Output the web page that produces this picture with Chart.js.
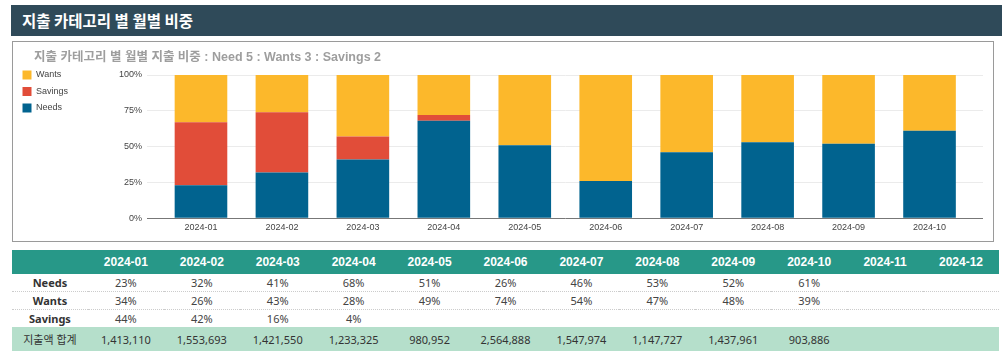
<!DOCTYPE html>
<html>
<head>
<meta charset="utf-8">
<script src="https://cdn.jsdelivr.net/npm/chart.js@4.4.1/dist/chart.umd.min.js"></script>
<style>
body{margin:0;width:1002px;height:358px;background:#fff;position:relative;overflow:hidden;font-family:"Liberation Sans",Arial,sans-serif;}
.head{position:absolute;left:11px;top:5px;width:991px;height:31px;background:#2f4a59;color:#fff;font:bold 15.5px "Noto Sans CJK KR",sans-serif;line-height:31px;padding-left:11px;box-sizing:border-box;}
.box{position:absolute;left:12px;top:41px;width:980px;height:199px;border:1px solid #9a9a9a;}
.box canvas{position:absolute;left:0;top:0}
.ctitle{position:absolute;left:21px;top:8px;font:bold 12.5px "Liberation Sans","Noto Sans CJK KR",sans-serif;color:#9e9e9e;line-height:14px;white-space:nowrap;}
table{position:absolute;left:12px;top:250px;width:987px;border-collapse:collapse;table-layout:fixed;font-family:"Noto Sans","Noto Sans CJK KR",sans-serif;}
th,td{padding:0;text-align:center;overflow:hidden;white-space:nowrap}
thead th{background:#279888;color:#fff;height:24px;font:bold 12px "Liberation Sans",Arial,sans-serif;}
tbody td{height:17px;font-size:11px;color:#444;border-bottom:1px dotted #ccc}
tbody th{height:17px;font-size:11px;font-weight:bold;color:#333;border-bottom:1px dotted #ccc}
tbody tr.last td, tbody tr.last th{border-bottom:none}
tr.total td, tr.total th{background:#b5dfcb;height:24px;font-size:11px;color:#333;border:none;font-weight:normal}
</style>
</head>
<body>
<div class="head">지출 카테고리 별 월별 비중</div>
<div class="box">
  <canvas id="chart" width="980" height="199"></canvas>
  <div class="ctitle">지출 카테고리 별 월별 지출 비중 : Need 5 : Wants 3 : Savings 2</div>
</div>
<table id="tbl"></table>
<script>
// 데이터
const months = ['2024-01','2024-02','2024-03','2024-04','2024-05','2024-06','2024-07','2024-08','2024-09','2024-10','2024-11','2024-12'];
const needs = [23, 32, 41, 68, 51, 26, 46, 53, 52, 61];
const wants = [34, 26, 43, 28, 49, 74, 54, 47, 48, 39];
const savings = [44, 42, 16, 4, null, null, null, null, null, null];
const totals = [1413110, 1553693, 1421550, 1233325, 980952, 2564888, 1547974, 1147727, 1437961, 903886];

const COLORS = { needs:'#01638f', savings:'#e14d39', wants:'#fcb82b' };
const gridColor = c => (c.tick && c.tick.value === 0) ? '#777' : '#ebebeb';

Chart.defaults.font.family = '"Liberation Sans", Arial, sans-serif';
Chart.defaults.color = '#444';

new Chart(document.getElementById('chart'), {
  type:'bar',
  data:{
    labels: months.slice(0, needs.length),
    datasets:[
      { label:'Needs', data:needs, backgroundColor:COLORS.needs },
      { label:'Savings', data:savings, backgroundColor:COLORS.savings },
      { label:'Wants', data:wants, backgroundColor:COLORS.wants }
    ]
  },
  options:{
    responsive:false,
    animation:false,
    datasets:{ bar:{ categoryPercentage:0.65, barPercentage:1, borderWidth:0 } },
    layout:{ padding:{ left:2, top:21, right:10, bottom:4 } },
    plugins:{
      legend:{
        position:'left', align:'start', reverse:true,
        labels:{ boxWidth:9, boxHeight:9, padding:7.5, font:{ size:9 }, color:'#444' }
      },
      tooltip:{ enabled:false }
    },
    scales:{
      x:{
        stacked:true,
        grid:{ display:false, drawTicks:false }, border:{ display:false },
        ticks:{ font:{ size:9 }, color:'#444', padding:4, maxRotation:0, autoSkip:false }
      },
      xTop:{
        position:'top', ticks:{ display:false }, border:{ display:false },
        grid:{ drawOnChartArea:false, tickLength:12, color:'transparent' }
      },
      y:{
        stacked:true, min:0, max:100,
        border:{ display:false },
        grid:{ color:gridColor, tickLength:13.5 },
        ticks:{ stepSize:25, padding:5, font:{ size:9 }, color:'#444', callback:v => v + '%' },
        afterFit: s => { s.width = 145.5 - s.chart.legend.width; }
      },
      y2:{
        position:'right', min:0, max:100,
        border:{ display:false },
        grid:{ color:gridColor, tickLength:13, drawOnChartArea:false },
        ticks:{ stepSize:25, display:false }
      }
    }
  }
});

// 표
const pct = v => (v == null ? '' : v + '%');
const tbl = document.getElementById('tbl');
let html = '<thead><tr><th></th>' + months.map(m => '<th>' + m + '</th>').join('') + '</tr></thead><tbody>';
const rows = [['Needs', needs], ['Wants', wants], ['Savings', savings]];
rows.forEach((r, i) => {
  html += '<tr' + (i === rows.length - 1 ? ' class="last"' : '') + '><th>' + r[0] + '</th>' +
    months.map((m, j) => '<td>' + pct(r[1][j]) + '</td>').join('') + '</tr>';
});
html += '<tr class="total"><th>지출액 합계</th>' +
  months.map((m, j) => '<td>' + (totals[j] != null ? totals[j].toLocaleString('en-US') : '') + '</td>').join('') + '</tr></tbody>';
tbl.innerHTML = html;
</script>
</body>
</html>
